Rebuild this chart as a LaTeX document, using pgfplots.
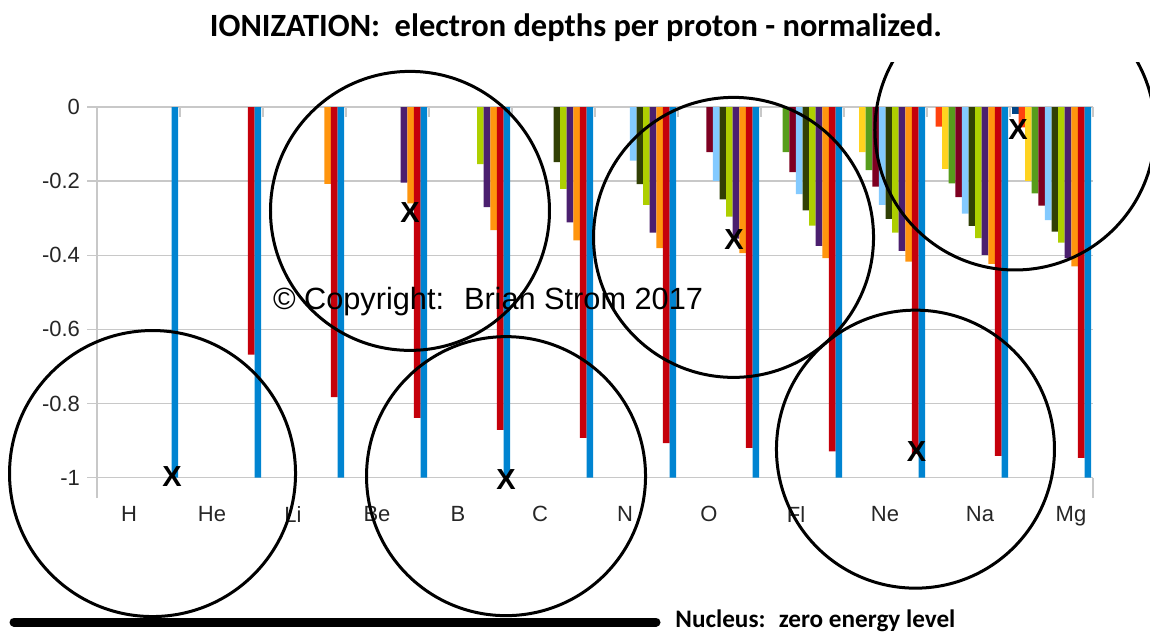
\documentclass[border=0pt]{standalone}
\usepackage{fontspec}
\setmainfont{Liberation Sans}
\newfontfamily\carlito{Carlito}
\usepackage{pgfplots}
\pgfplotsset{compat=1.18}
\definecolor{s1}{HTML}{004586}
\definecolor{s2}{HTML}{FF420E}
\definecolor{s3}{HTML}{FFD320}
\definecolor{s4}{HTML}{579D1C}
\definecolor{s5}{HTML}{7E0021}
\definecolor{s6}{HTML}{83CAFF}
\definecolor{s7}{HTML}{314004}
\definecolor{s8}{HTML}{AECF00}
\definecolor{s9}{HTML}{4B1F6F}
\definecolor{s10}{HTML}{FF950E}
\definecolor{s11}{HTML}{C5000B}
\definecolor{s12}{HTML}{0084D1}
\definecolor{gridgray}{HTML}{C8C8C8}
\begin{document}
\begin{tikzpicture}
\useasboundingbox (0,0) rectangle (575pt,316.5pt);
\begin{axis}[
  at={(48.5pt,67.5pt)}, anchor=south west,
  scale only axis, width=498pt, height=195.5pt,
  xmin=-0.5, xmax=11.5, ymin=-1.055, ymax=0,
  ybar=0pt, bar width=3.3pt,
  clip=false,
  axis line style={draw=none},
  ytick={-1,-0.8,-0.6,-0.4,-0.2,0},
  ymajorgrids, grid style={color=gridgray, line width=0.7pt},
  ytick pos=left, ytick align=outside,
  major tick length=5pt, minor tick length=5pt,
  y tick style={color=gridgray, line width=0.7pt},
  xtick={-0.114,0.886,1.861,2.873,3.849,4.837,5.861,6.873,7.922,8.994,10.139,11.235},
  xticklabels={H,He,Li,Be,B,C,N,O,Fl,Ne,Na,Mg},
  minor xtick={-0.5,0.5,...,11.5},
  xtick pos=upper, xticklabel pos=lower, xtick align=inside,
  major x tick style={draw=none},
  minor x tick style={color=gridgray, line width=0.7pt},
  xticklabel style={yshift=-0.5pt},
  tick label style={font=\fontsize{11}{13}\selectfont, color=black!85},
  /pgf/number format/assume math mode=true,
]
\addplot[fill=s1, draw=none] coordinates {(11,-0.02)};
\addplot[fill=s2, draw=none] coordinates {(10,-0.053) (11,-0.055)};
\addplot[fill=s3, draw=none] coordinates {(9,-0.122) (10,-0.167) (11,-0.199)};
\addplot[fill=s4, draw=none] coordinates {(8,-0.122) (9,-0.170) (10,-0.206) (11,-0.233)};
\addplot[fill=s5, draw=none] coordinates {(7,-0.122) (8,-0.176) (9,-0.215) (10,-0.243) (11,-0.266)};
\addplot[fill=s6, draw=none] coordinates {(6,-0.145) (7,-0.199) (8,-0.235) (9,-0.264) (10,-0.288) (11,-0.305)};
\addplot[fill=s7, draw=none] coordinates {(5,-0.149) (6,-0.208) (7,-0.249) (8,-0.279) (9,-0.302) (10,-0.321) (11,-0.336)};
\addplot[fill=s8, draw=none] coordinates {(4,-0.154) (5,-0.221) (6,-0.264) (7,-0.296) (8,-0.320) (9,-0.339) (10,-0.354) (11,-0.366)};
\addplot[fill=s9, draw=none] coordinates {(3,-0.204) (4,-0.270) (5,-0.311) (6,-0.339) (7,-0.355) (8,-0.375) (9,-0.388) (10,-0.399) (11,-0.408)};
\addplot[fill=s10, draw=none] coordinates {(2,-0.2075) (3,-0.26) (4,-0.332) (5,-0.360) (6,-0.381) (7,-0.394) (8,-0.408) (9,-0.417) (10,-0.423) (11,-0.430)};
\addplot[fill=s11, draw=none] coordinates {(1,-0.668) (2,-0.783) (3,-0.839) (4,-0.871) (5,-0.893) (6,-0.907) (7,-0.920) (8,-0.929) (9,-0.936) (10,-0.941) (11,-0.947)};
\addplot[fill=s12, draw=none] coordinates {(0,-1) (1,-1) (2,-1) (3,-1) (4,-1) (5,-1) (6,-1) (7,-1) (8,-1) (9,-1) (10,-1) (11,-1)};
% axis lines
\draw[gridgray, line width=0.7pt] (rel axis cs:0,0) -- (rel axis cs:0,1);
\draw[gridgray, line width=0.7pt] (rel axis cs:1,0) -- (axis cs:11.5,-1);
% copyright
\node[inner sep=0pt] at (axis cs:4.211,-0.5256) {\resizebox{215pt}{!}{\copyright{} Copyright:~ Brian Strom 2017}};
% circles
\draw[line width=1.5pt] (axis cs:0.169,-0.989) circle[radius=71.5pt];
\draw[line width=1.5pt] (axis cs:3.271,-0.2803) circle[radius=69.75pt];
\draw[line width=1.5pt] (axis cs:4.428,-0.996) circle[radius=69.75pt];
\draw[line width=1.5pt] (axis cs:7.169,-0.3518) circle[radius=70pt];
\draw[line width=1.5pt] (axis cs:9.361,-0.9232) circle[radius=69.5pt];
\begin{scope}
\clip (axis cs:8,0.1213) rectangle (axis cs:14,-1);
\draw[line width=1.5pt] (axis cs:10.560,-0.062) circle[radius=70pt];
\end{scope}
% X marks
\node[inner sep=0pt, font=\fontsize{14.5}{16}\selectfont\bfseries] at (axis cs:0.404,-0.997) {X};
\node[inner sep=0pt, font=\fontsize{14.5}{16}\selectfont\bfseries] at (axis cs:3.271,-0.2857) {X};
\node[inner sep=0pt, font=\fontsize{14.5}{16}\selectfont\bfseries] at (axis cs:4.428,-1.0054) {X};
\node[inner sep=0pt, font=\fontsize{14.5}{16}\selectfont\bfseries] at (axis cs:7.175,-0.3585) {X};
\node[inner sep=0pt, font=\fontsize{14.5}{16}\selectfont\bfseries] at (axis cs:9.373,-0.930) {X};
\node[inner sep=0pt, font=\fontsize{14.5}{16}\selectfont\bfseries] at (axis cs:10.596,-0.062) {X};
\end{axis}
\node[inner sep=0pt] at (288pt,302.5pt) {\resizebox{366pt}{!}{\carlito\bfseries IONIZATION:~ electron depths per proton - normalized.}};
\draw[line width=4.5pt, line cap=round] (7pt,5.5pt) -- (328pt,5.5pt);
\node[inner sep=0pt, anchor=west] at (337.5pt,6pt) {\resizebox{140pt}{!}{\carlito\bfseries Nucleus:~ zero energy level}};
\end{tikzpicture}
\end{document}
